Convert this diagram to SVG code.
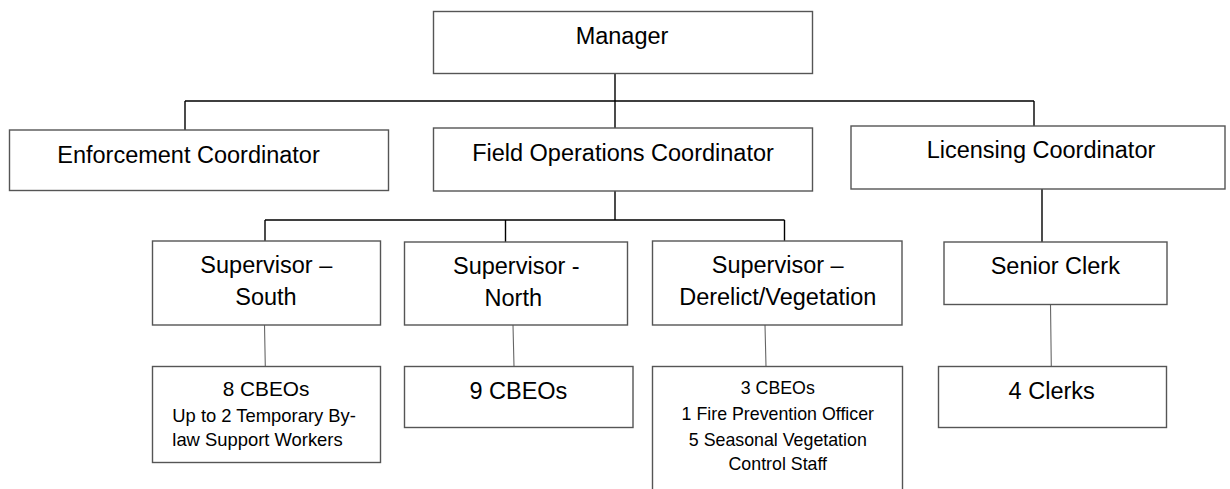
<svg xmlns="http://www.w3.org/2000/svg" width="1230" height="489" viewBox="0 0 1230 489">
<style>
.box{fill:#fff;stroke:#555;stroke-width:1.4}
.t{font-family:"Liberation Sans",Arial,sans-serif;font-size:23.5px;fill:#000;text-anchor:middle}
.s{font-family:"Liberation Sans",Arial,sans-serif;font-size:17.8px;fill:#000;text-anchor:middle}
.c{fill:none;stroke:#000;stroke-width:1.4}
.g{fill:none;stroke:#666;stroke-width:1.1}
</style>
<rect width="1230" height="489" fill="#fff"/>
<g id="connectors">
<path class="c" d="M615,74V128M185,101H1034M185,101V130M1034,101V126"/>
<path class="c" d="M615,191V220M265,220H784.5M265,220V241M505.5,220V242M784.5,220V241M1042,189V242"/>
<path class="g" d="M264.5,325L265.3,366.5M513,325L514,366.5M765,325L766,366.5M1050.5,304.5L1051.3,366.5"/>
</g>
<g id="manager"><rect class="box" x="433.5" y="11.5" width="379" height="62"/><text class="t" x="622" y="43.5">Manager</text></g>
<g id="enforcement"><rect class="box" x="9.5" y="130" width="379" height="60.5"/><text class="t" x="188.5" y="162.5">Enforcement Coordinator</text></g>
<g id="fieldops"><rect class="box" x="433.5" y="128" width="379" height="63"/><text class="t" x="623" y="161">Field Operations Coordinator</text></g>
<g id="licensing"><rect class="box" x="851" y="126" width="374" height="63"/><text class="t" x="1041" y="157.5">Licensing Coordinator</text></g>
<g id="sup-south"><rect class="box" x="152.5" y="241" width="228" height="84"/><text class="t" x="266.3" y="273">Supervisor –</text><text class="t" x="266" y="305">South</text></g>
<g id="sup-north"><rect class="box" x="404.5" y="242" width="223" height="83"/><text class="t" x="516.3" y="274">Supervisor -</text><text class="t" x="513.3" y="305.5">North</text></g>
<g id="sup-derelict"><rect class="box" x="652.5" y="241" width="249.5" height="84"/><text class="t" x="777.7" y="272.5">Supervisor –</text><text class="t" x="777.8" y="305">Derelict/Vegetation</text></g>
<g id="senior-clerk"><rect class="box" x="944" y="242" width="223" height="62.5"/><text class="t" x="1055.3" y="274.3">Senior Clerk</text></g>
<g id="south-staff"><rect class="box" x="152.5" y="366.5" width="228" height="96"/><text class="t" x="266" y="396" style="font-size:20.8px">8 CBEOs</text><text class="s" x="172.3" y="421.7" style="font-size:18.4px;text-anchor:start">Up to 2 Temporary By-</text><text class="s" x="172.3" y="446" style="font-size:18.4px;text-anchor:start">law Support Workers</text></g>
<g id="north-staff"><rect class="box" x="404.5" y="366.5" width="228.5" height="61"/><text class="t" x="518.4" y="399">9 CBEOs</text></g>
<g id="derelict-staff"><rect class="box" x="652.5" y="366.5" width="250" height="140"/><text class="s" x="777.8" y="394">3 CBEOs</text><text class="s" x="777.8" y="420">1 Fire Prevention Officer</text><text class="s" x="777.8" y="446">5 Seasonal Vegetation</text><text class="s" x="777.8" y="470">Control Staff</text></g>
<g id="clerks"><rect class="box" x="938.5" y="366.5" width="228" height="61"/><text class="t" x="1051.7" y="399">4 Clerks</text></g>
</svg>
